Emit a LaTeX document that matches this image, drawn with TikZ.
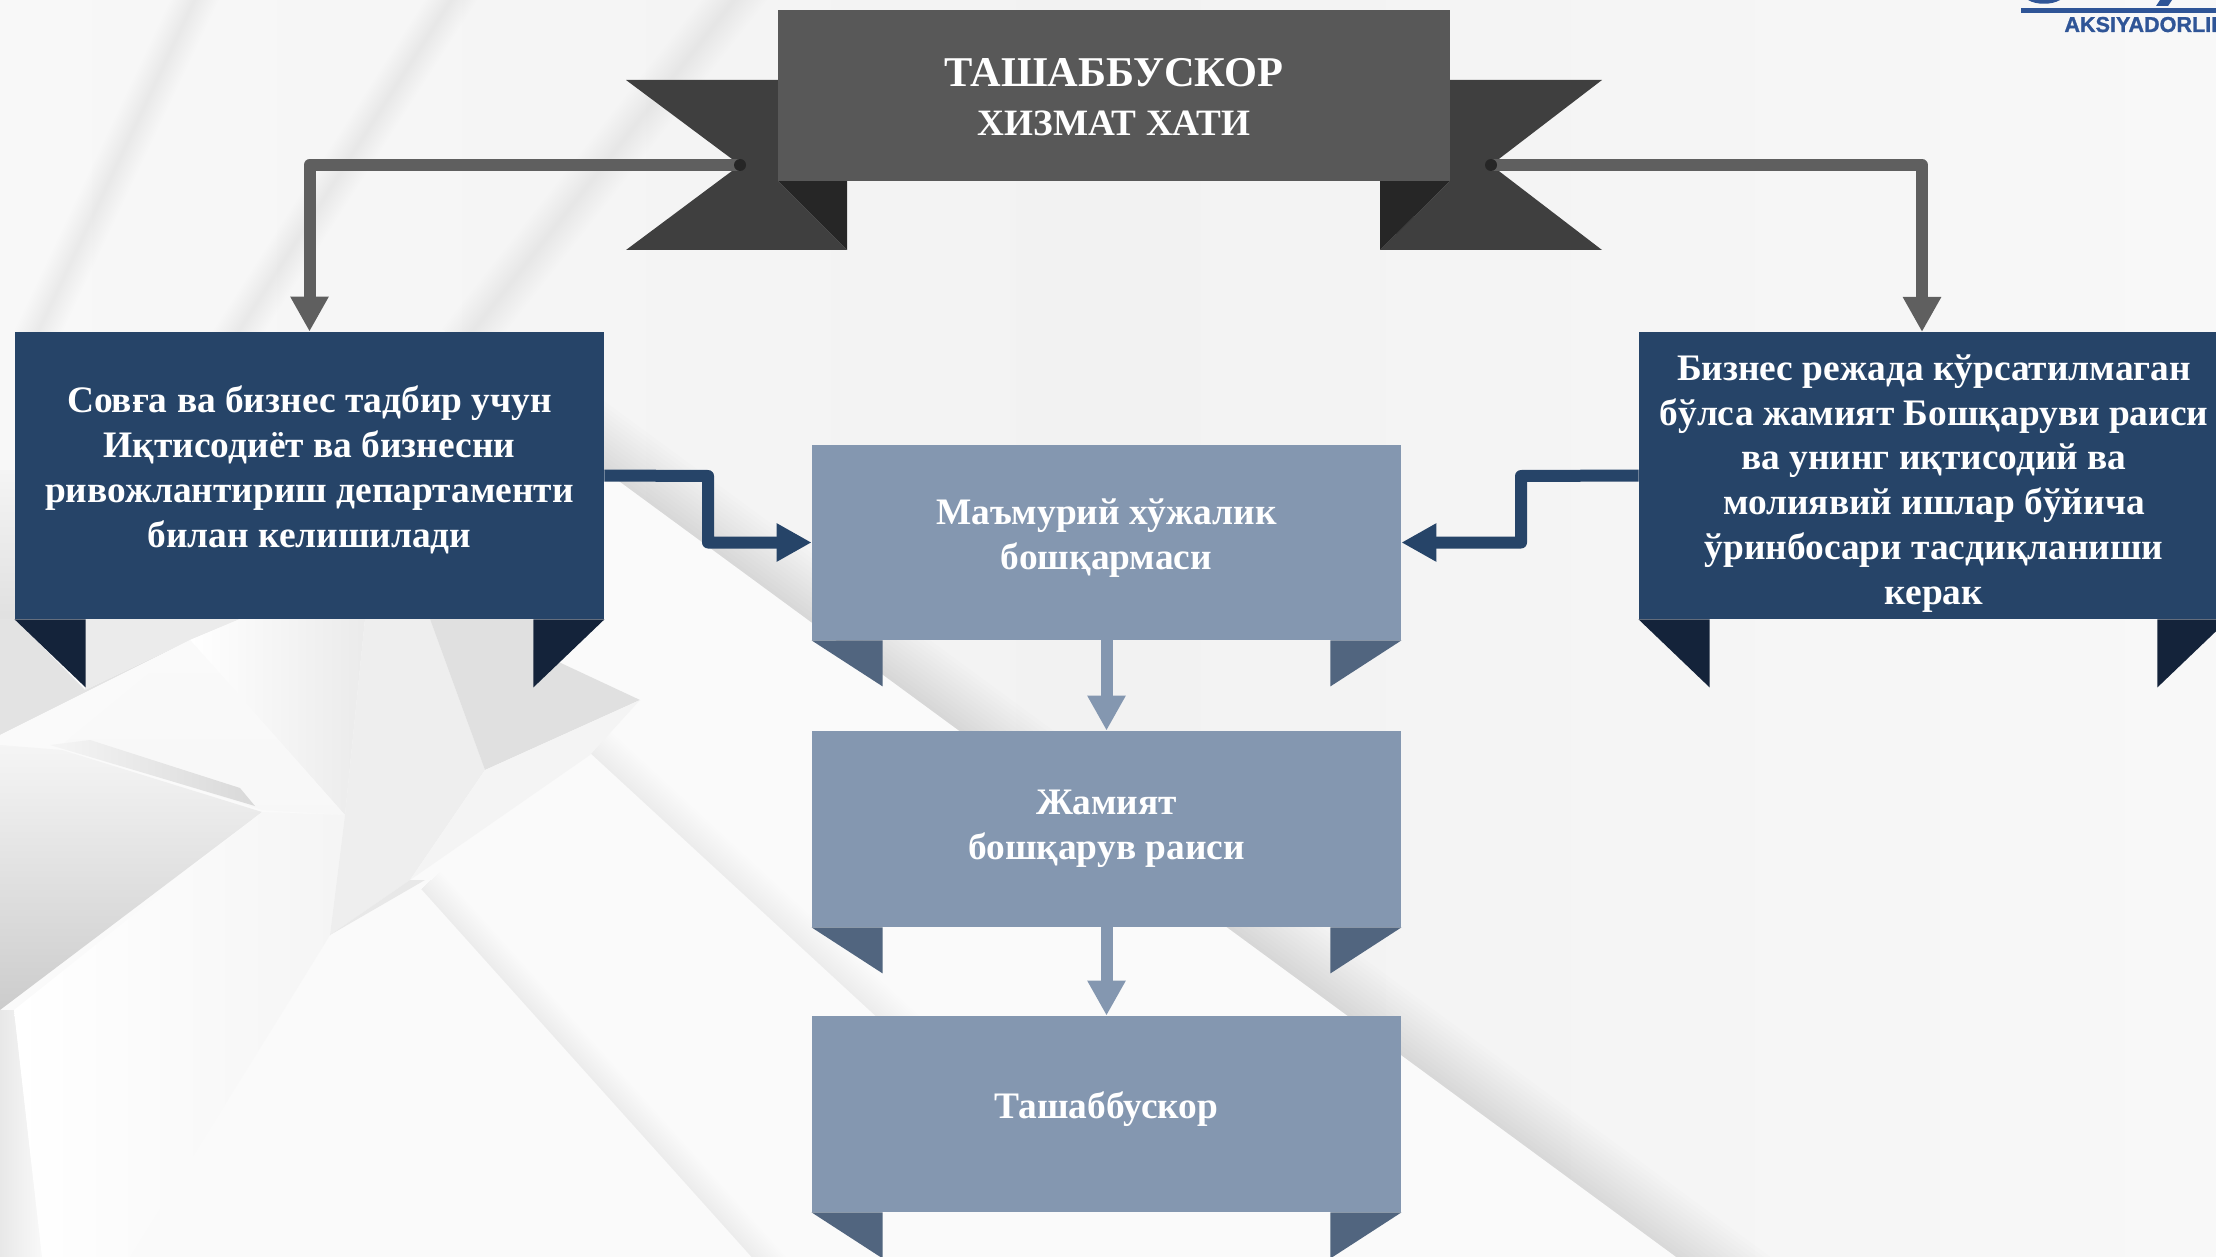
\documentclass[tikz,border=0pt]{standalone}
\usepackage{fontspec}
\setmainfont{Liberation Serif}
\newfontfamily\logofont[FakeBold=1.2]{Liberation Sans Bold}
\usetikzlibrary{arrows.meta}
\definecolor{topbox}{HTML}{585858}
\definecolor{ribbon}{HTML}{3F3F3F}
\definecolor{ribfold}{HTML}{262626}
\definecolor{navy}{HTML}{264468}
\definecolor{navyfold}{HTML}{14233A}
\definecolor{steel}{HTML}{8497B0}
\definecolor{steelfold}{HTML}{51657F}
\definecolor{grayline}{HTML}{5F5F5F}
\definecolor{logoblue}{HTML}{2F5597}
\definecolor{paper}{HTML}{F4F4F4}
\definecolor{bright}{HTML}{FAFAFA}
\definecolor{paperlight}{HTML}{F8F8F8}
\definecolor{papermid}{HTML}{F2F2F2}
\tikzset{
  panel/.style={draw=none,inner sep=0pt,minimum width=294.5pt,minimum height=#1},
  caption/.style={text=white,font=\bfseries\fontsize{18.7}{22.4}\selectfont,align=center,inner sep=0pt},
  link/.style={line width=6pt,line join=round,-{Triangle[length=17.5pt,width=18pt]}},
  softstroke/.style={draw=black,line cap=butt},
}
% soft shadow band: x1,y1,x2,y2,full width(pt),layer opacity
\newcommand{\softband}[6]{%
  \foreach \w in {1,...,14}{\draw[softstroke,opacity=#6,line width=\w*#5/14] (#1,#2) -- (#3,#4);}}
% fold pair: node, colour, depth
\newcommand{\foldpair}[3]{%
  \fill[#2] (#1.south west) -- ++(71,#3) -- ++(0,-#3) -- cycle;
  \fill[#2] (#1.south east) -- ++(-71,#3) -- ++(0,-#3) -- cycle;}
\begin{document}
\begin{tikzpicture}[x=0.5pt,y=-0.5pt]
\useasboundingbox (0,0) rectangle (2216,1257);
\clip (0,0) rectangle (2216,1257);
% ---------- background ----------
\shade[left color=paperlight,right color=paperlight,middle color=papermid] (0,0) rectangle (2216,1257);
\softband{204}{-20}{32}{345}{22pt}{.003}
\softband{464}{-20}{230}{345}{22pt}{.003}
\softband{750}{-20}{462}{345}{26pt}{.003}
\softband{560}{438}{1800}{1348}{56pt}{.009}
\fill[bright] (560,438) -- (1800,1348) -- (0,1348) -- (0,619) -- (560,619) -- cycle;
\softband{590}{753}{1010}{1140}{30pt}{.005}
\fill[bright] (590,753) -- (1010,1140) -- (1010,1257) -- (400,1257) -- (400,800) -- cycle;
\softband{421}{889}{790}{1300}{26pt}{.005}
\fill[bright] (421,889) -- (790,1300) -- (200,1300) -- (200,889) -- cycle;
% star folds
\shade[top color=paper,bottom color=gray!24] (0,470) rectangle (15,619);
\fill[gray!22] (0,619) -- (15,619) -- (85,690) -- (190,640) -- (0,735) -- cycle;
\fill[gray!16] (85,619) -- (240,619) -- (190,640) -- (85,690) -- cycle;
\shade[left color=white,right color=gray!16] (240,619) -- (365,619) -- (345,815) -- (190,640) -- cycle;
\fill[bright] (0,735) -- (190,640) -- (62,745) -- cycle;
\shade[top color=bright,bottom color=gray!6] (62,745) -- (190,640) -- (345,815) -- (262,810) -- cycle;
\shade[top color=gray!8,bottom color=gray!40] (0,745) -- (62,750) -- (262,812) -- (0,1010) -- cycle;
\shade[left color=gray!8,right color=gray!30] (50,745) -- (255,806) -- (240,788) -- (90,740) -- cycle;
\shade[left color=gray!18,right color=gray!5] (0,1010) -- (14,1010) -- (42,1257) -- (0,1257) -- cycle;
\shade[left color=white,right color=gray!8] (262,812) -- (345,815) -- (330,935) -- (290,1000) -- (130,1257) -- (42,1257) -- (14,1010) -- cycle;
\fill[gray!13] (365,619) -- (430,619) -- (485,770) -- (410,880) -- (330,935) -- (345,815) -- cycle;
\fill[gray!24] (430,619) -- (533,619) -- (533,650) -- (640,700) -- (485,770) -- cycle;
\fill[paper] (485,770) -- (640,700) -- (590,755) -- (410,880) -- cycle;
\fill[gray!18] (410,880) -- (425,880) -- (330,935) -- cycle;
% logo fragment
\fill[logoblue] (2021,8) rectangle (2216,13);
\fill[logoblue] (2028,0) .. controls (2036,5) and (2052,5) .. (2060,0) -- cycle;
\fill[logoblue] (2160,0) -- (2172,0) -- (2168,6) -- (2156,6) -- cycle;
\node[anchor=base west,inner sep=0pt,text=logoblue,font=\logofont\fontsize{10.8}{12}\selectfont] (logo) at (2064,32) {AKSIYADORLIK};
% ---------- banner ----------
\coordinate (notchL) at (740,165);
\coordinate (notchR) at (1491,165);
\fill[ribbon] (626,80) -- (790,80) -- (790,181) -- (778,181) -- (847,250) -- (626,250) -- (notchL) -- cycle;
\fill[ribbon] (1602,80) -- (1440,80) -- (1440,181) -- (1450,181) -- (1380,250) -- (1602,250) -- (notchR) -- cycle;
\fill[ribfold] (778,181) -- (847,181) -- (847,250) -- cycle;
\fill[ribfold] (1450,181) -- (1380,181) -- (1380,250) -- cycle;
\node[panel=85.5pt,minimum width=336pt,fill=topbox] (top) at (1114,95.5) {};
\node[text=white,font=\bfseries\fontsize{21.2}{26}\selectfont,inner sep=0pt] (t0a) at (1114,72.5) {ТАШАББУСКОР};
\node[text=white,font=\bfseries\fontsize{18.6}{24}\selectfont,inner sep=0pt] (t0b) at (1114,123) {ХИЗМАТ ХАТИ};
% ---------- boxes ----------
\node[panel=143.5pt,fill=navy] (lb) at (309.5,475.5) {};
\node[panel=143.5pt,fill=navy] (rb) at (1933.5,475.5) {};
\node[panel=97.5pt,fill=steel] (m1) at (1106.5,542.5) {};
\node[panel=98pt,fill=steel] (m2) at (1106.5,829) {};
\node[panel=98pt,fill=steel] (m3) at (1106.5,1114) {};
\foldpair{lb}{navyfold}{68}
\foldpair{rb}{navyfold}{68}
\foldpair{m1}{steelfold}{46}
\foldpair{m2}{steelfold}{46}
\foldpair{m3}{steelfold}{46}
\node[caption] (tl) at (309.5,470) {Совға ва бизнес тадбир учун\\Иқтисодиёт ва бизнесни\\ривожлантириш департаменти\\билан келишилади};
\node[caption] (tr) at (1934,483.5) {Бизнес режада кўрсатилмаган\\бўлса жамият Бошқаруви раиси\\ва унинг иқтисодий ва\\молиявий ишлар бўйича\\ўринбосари тасдиқланиши\\керак};
\node[caption] (tm1) at (1106.5,538.5) {Маъмурий хўжалик\\бошқармаси};
\node[caption] (tm2) at (1106.5,829) {Жамият\\бошқарув раиси};
\node[caption] (tm3) at (1106.5,1109) {Ташаббускор};
% ---------- connectors ----------
\coordinate (rtip) at (1922,332);
\draw[link,grayline] (notchL) -- (lb.north |- notchL) -- (lb.north);
\draw[link,grayline] (notchR) -- (rtip |- notchR) -- (rtip);
\fill[black!85] (notchL) circle[radius=6];
\fill[black!85] (notchR) circle[radius=6];
\coordinate (lbend) at (708,476);
\coordinate (rbend) at (1521,476);
\draw[link,navy] (lb.east) -- (lbend) |- (m1.west);
\draw[link,navy] (rb.west) -- (rbend) |- (m1.east);
\draw[link,steel] (m1.south) -- (m2.north);
\draw[link,steel] (m2.south) -- (m3.north);
\end{tikzpicture}
\end{document}
